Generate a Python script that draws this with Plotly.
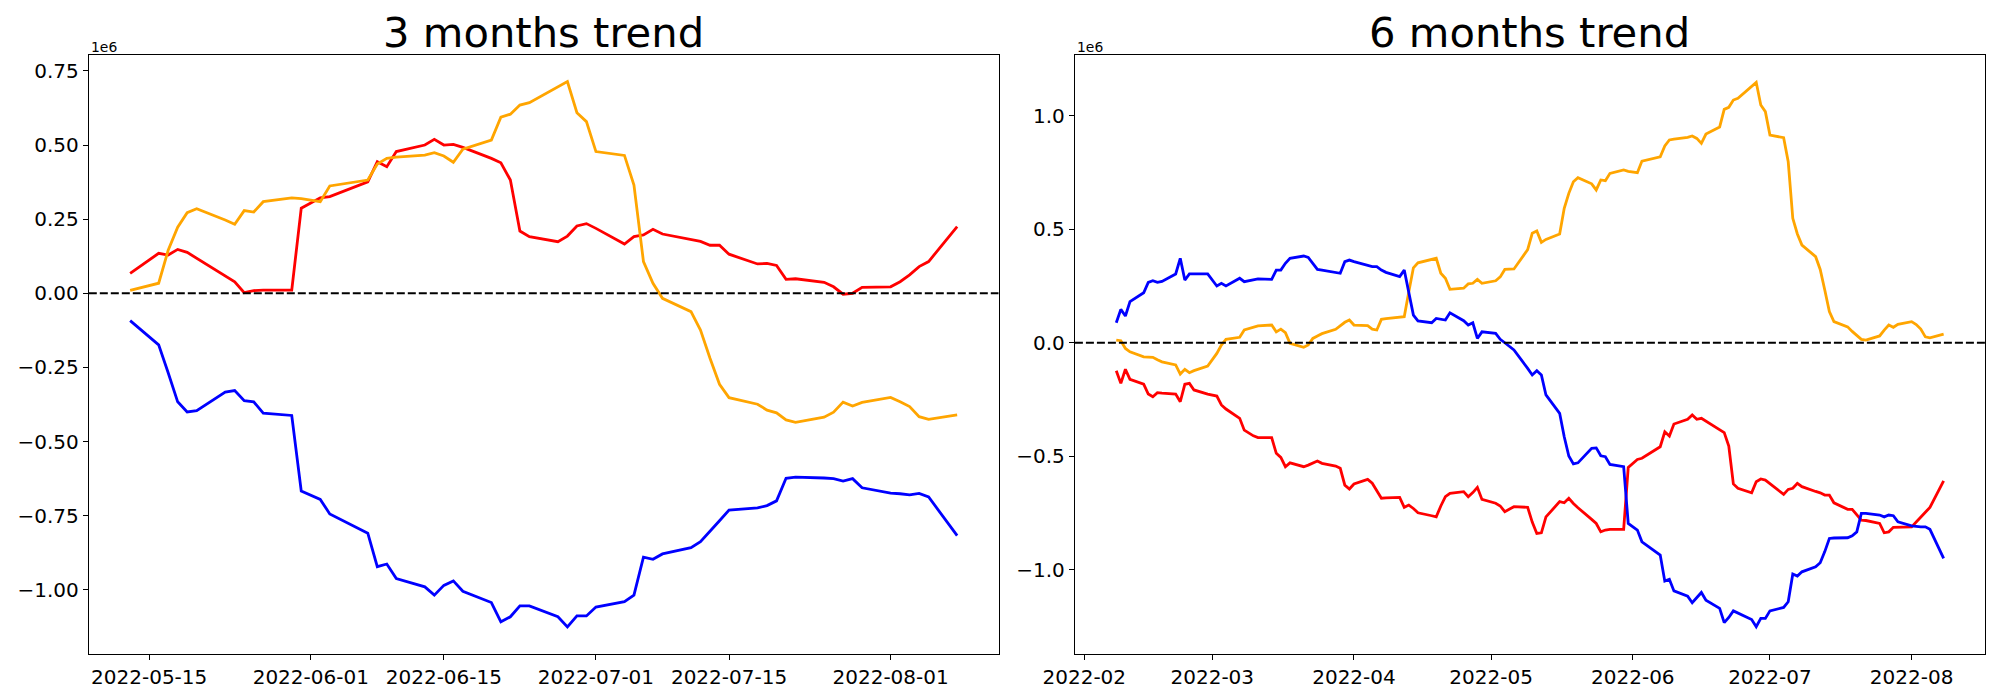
import plotly.graph_objects as go

# ---------------- 3 months trend (values in units of 1e6) ----------------
dates_3m = [
    "2022-05-13", "2022-05-16", "2022-05-17", "2022-05-18", "2022-05-19", "2022-05-20",
    "2022-05-23", "2022-05-24", "2022-05-25", "2022-05-26", "2022-05-27", "2022-05-30",
    "2022-05-31", "2022-06-02", "2022-06-03", "2022-06-07", "2022-06-08", "2022-06-09",
    "2022-06-10", "2022-06-13", "2022-06-14", "2022-06-15", "2022-06-16", "2022-06-17",
    "2022-06-20", "2022-06-21", "2022-06-22", "2022-06-23", "2022-06-24", "2022-06-27",
    "2022-06-28", "2022-06-29", "2022-06-30", "2022-07-01", "2022-07-04", "2022-07-05",
    "2022-07-06", "2022-07-07", "2022-07-08", "2022-07-11", "2022-07-12", "2022-07-13",
    "2022-07-14", "2022-07-15", "2022-07-18", "2022-07-19", "2022-07-20", "2022-07-21",
    "2022-07-22", "2022-07-25", "2022-07-26", "2022-07-27", "2022-07-28", "2022-07-29",
    "2022-08-01", "2022-08-02", "2022-08-03", "2022-08-04", "2022-08-05", "2022-08-08",
]
red_3m = [
    0.067, 0.135, 0.129, 0.148, 0.138, 0.118,
    0.059, 0.039, 0.002, 0.009, 0.011, 0.011,
    0.287, 0.322, 0.326, 0.376, 0.444, 0.427,
    0.478, 0.500, 0.519, 0.500, 0.502, 0.492,
    0.455, 0.440, 0.382, 0.210, 0.191, 0.174,
    0.193, 0.227, 0.235, 0.219, 0.166, 0.191,
    0.197, 0.216, 0.200, 0.182, 0.175, 0.162,
    0.162, 0.132, 0.099, 0.101, 0.094, 0.047,
    0.049, 0.037, 0.022, -0.003, 0.000, 0.020,
    0.022, 0.039, 0.062, 0.090, 0.107, 0.225,
]
orange_3m = [
    0.010, 0.034, 0.145, 0.223, 0.272, 0.285,
    0.247, 0.233, 0.279, 0.274, 0.309, 0.322,
    0.319, 0.309, 0.362, 0.382, 0.436, 0.455,
    0.459, 0.466, 0.474, 0.463, 0.442, 0.486,
    0.517, 0.594, 0.604, 0.635, 0.643, 0.696,
    0.714, 0.609, 0.579, 0.478, 0.465, 0.365,
    0.107, 0.034, -0.017, -0.062, -0.124, -0.219,
    -0.307, -0.352, -0.374, -0.394, -0.403, -0.427,
    -0.435, -0.418, -0.401, -0.367, -0.380, -0.368,
    -0.351, -0.366, -0.382, -0.416, -0.425, -0.410,
]
blue_3m = [
    -0.092, -0.174, -0.268, -0.366, -0.400, -0.396,
    -0.333, -0.328, -0.362, -0.366, -0.404, -0.412,
    -0.667, -0.695, -0.744, -0.809, -0.922, -0.913,
    -0.962, -0.990, -1.018, -0.985, -0.970, -1.005,
    -1.043, -1.108, -1.091, -1.054, -1.054, -1.091,
    -1.125, -1.088, -1.088, -1.058, -1.040, -1.018,
    -0.890, -0.897, -0.879, -0.858, -0.838, -0.804,
    -0.767, -0.731, -0.724, -0.716, -0.700, -0.624,
    -0.620, -0.623, -0.625, -0.633, -0.625, -0.656,
    -0.674, -0.676, -0.680, -0.675, -0.687, -0.817,
]

# ---------------- 6 months trend (values in units of 1e6) ----------------
dates_6m = [
    "2022-02-08", "2022-02-09", "2022-02-10", "2022-02-11", "2022-02-14", "2022-02-15",
    "2022-02-16", "2022-02-17", "2022-02-18", "2022-02-21", "2022-02-22", "2022-02-23",
    "2022-02-24", "2022-02-25", "2022-02-28",
    "2022-03-02", "2022-03-03", "2022-03-04", "2022-03-07", "2022-03-08", "2022-03-10",
    "2022-03-11", "2022-03-14", "2022-03-15", "2022-03-16", "2022-03-17", "2022-03-18",
    "2022-03-21", "2022-03-22", "2022-03-23", "2022-03-24", "2022-03-25", "2022-03-28",
    "2022-03-29", "2022-03-30", "2022-03-31",
    "2022-04-01", "2022-04-04", "2022-04-05", "2022-04-06", "2022-04-07", "2022-04-08",
    "2022-04-11", "2022-04-12", "2022-04-13", "2022-04-14", "2022-04-15", "2022-04-18",
    "2022-04-19", "2022-04-20", "2022-04-21", "2022-04-22", "2022-04-25", "2022-04-26",
    "2022-04-27", "2022-04-28", "2022-04-29",
    "2022-05-02", "2022-05-03", "2022-05-04", "2022-05-06", "2022-05-09", "2022-05-10",
    "2022-05-11", "2022-05-12", "2022-05-13", "2022-05-16", "2022-05-17", "2022-05-18",
    "2022-05-19", "2022-05-20", "2022-05-23", "2022-05-24", "2022-05-25", "2022-05-26",
    "2022-05-27", "2022-05-30", "2022-05-31",
    "2022-06-02", "2022-06-03", "2022-06-07", "2022-06-08", "2022-06-09", "2022-06-10",
    "2022-06-13", "2022-06-14", "2022-06-15", "2022-06-16", "2022-06-17", "2022-06-20",
    "2022-06-21", "2022-06-22", "2022-06-23", "2022-06-24", "2022-06-27", "2022-06-28",
    "2022-06-29", "2022-06-30",
    "2022-07-01", "2022-07-04", "2022-07-05", "2022-07-06", "2022-07-07", "2022-07-08",
    "2022-07-11", "2022-07-12", "2022-07-13", "2022-07-14", "2022-07-15", "2022-07-18",
    "2022-07-19", "2022-07-20", "2022-07-21", "2022-07-22", "2022-07-25", "2022-07-26",
    "2022-07-27", "2022-07-28", "2022-07-29",
    "2022-08-01", "2022-08-02", "2022-08-03", "2022-08-04", "2022-08-05", "2022-08-08",
]
blue_6m = [
    0.088, 0.147, 0.118, 0.181, 0.220, 0.266,
    0.273, 0.266, 0.270, 0.303, 0.372, 0.276,
    0.303, 0.303, 0.303,
    0.250, 0.262, 0.250, 0.284, 0.269, 0.279,
    0.281, 0.279, 0.320, 0.320, 0.350, 0.372,
    0.382, 0.376, 0.350, 0.323, 0.320, 0.310,
    0.306, 0.357, 0.364,
    0.357, 0.341, 0.335, 0.335, 0.320, 0.310,
    0.291, 0.320, 0.218, 0.122, 0.096, 0.088,
    0.107, 0.104, 0.100, 0.132, 0.097, 0.078,
    0.088, 0.019, 0.048,
    0.041, 0.015, 0.000, -0.032, -0.113, -0.142,
    -0.123, -0.142, -0.230, -0.311, -0.414, -0.499,
    -0.534, -0.529, -0.465, -0.463, -0.498, -0.502,
    -0.536, -0.546, -0.796,
    -0.825, -0.877, -0.935, -1.050, -1.042, -1.093,
    -1.116, -1.145, -1.120, -1.100, -1.134, -1.170,
    -1.233, -1.210, -1.181, -1.190, -1.219, -1.251,
    -1.214, -1.214,
    -1.181, -1.166, -1.141, -1.019, -1.028, -1.009,
    -0.987, -0.969, -0.920, -0.862, -0.860, -0.859,
    -0.850, -0.833, -0.752, -0.752, -0.759, -0.767,
    -0.759, -0.762, -0.789,
    -0.807, -0.810, -0.811, -0.811, -0.822, -0.950,
]
red_6m = [
    -0.123, -0.179, -0.117, -0.161, -0.182, -0.226,
    -0.238, -0.220, -0.222, -0.226, -0.260, -0.183,
    -0.179, -0.208, -0.226,
    -0.235, -0.274, -0.292, -0.333, -0.385, -0.410,
    -0.418, -0.418, -0.487, -0.505, -0.546, -0.529,
    -0.546, -0.539, -0.530, -0.521, -0.531, -0.543,
    -0.553, -0.627, -0.644,
    -0.622, -0.602, -0.619, -0.652, -0.685, -0.683,
    -0.681, -0.725, -0.715, -0.730, -0.749, -0.762,
    -0.767, -0.719, -0.678, -0.663, -0.656, -0.678,
    -0.660, -0.637, -0.690,
    -0.707, -0.719, -0.744, -0.722, -0.725, -0.790,
    -0.840, -0.837, -0.767, -0.700, -0.705, -0.685,
    -0.708, -0.727, -0.778, -0.796, -0.833, -0.825,
    -0.822, -0.822, -0.549,
    -0.514, -0.509, -0.458, -0.392, -0.411, -0.358,
    -0.337, -0.318, -0.337, -0.333, -0.346, -0.386,
    -0.396, -0.455, -0.622, -0.641, -0.661, -0.612,
    -0.600, -0.605,
    -0.620, -0.668, -0.646, -0.641, -0.619, -0.634,
    -0.655, -0.661, -0.671, -0.671, -0.705, -0.734,
    -0.734, -0.759, -0.781, -0.783, -0.796, -0.837,
    -0.833, -0.813, -0.812,
    -0.811, -0.790, -0.769, -0.745, -0.725, -0.608,
]
orange_6m = [
    0.012, 0.009, -0.025, -0.040, -0.062, -0.063,
    -0.064, -0.075, -0.084, -0.098, -0.138, -0.117,
    -0.132, -0.123, -0.103,
    -0.047, -0.010, 0.015, 0.024, 0.056, 0.070,
    0.074, 0.078, 0.048, 0.060, 0.044, -0.003,
    -0.020, -0.010, 0.019, 0.030, 0.040, 0.059,
    0.074, 0.090, 0.100,
    0.078, 0.075, 0.060, 0.056, 0.103, 0.106,
    0.112, 0.115, 0.225, 0.330, 0.352, 0.365,
    0.372, 0.306, 0.284, 0.235, 0.240, 0.259,
    0.262, 0.279, 0.262,
    0.273, 0.290, 0.323, 0.325, 0.410, 0.482,
    0.492, 0.442, 0.455, 0.479, 0.592, 0.658,
    0.709, 0.727, 0.700, 0.673, 0.717, 0.714,
    0.746, 0.761, 0.755,
    0.749, 0.800, 0.819, 0.867, 0.893, 0.897,
    0.905, 0.911, 0.900, 0.878, 0.919, 0.950,
    1.028, 1.037, 1.069, 1.077, 1.130, 1.147,
    1.047, 1.018,
    0.915, 0.903, 0.797, 0.548, 0.479, 0.430,
    0.379, 0.323, 0.232, 0.137, 0.093, 0.070,
    0.050, 0.034, 0.015, 0.012, 0.030, 0.056,
    0.078, 0.068, 0.081,
    0.093, 0.080, 0.060, 0.026, 0.022, 0.038,
]

# ---------------- ticks & labels ----------------
titles = ["3 months trend", "6 months trend"]
x3_ticks = ["2022-05-15", "2022-06-01", "2022-06-15", "2022-07-01", "2022-07-15", "2022-08-01"]
x3_labels = ["2022-05-15", "2022-06-01", "2022-06-15", "2022-07-01", "2022-07-15", "2022-08-01"]
x6_ticks = ["2022-02-01", "2022-03-01", "2022-04-01", "2022-05-01", "2022-06-01", "2022-07-01", "2022-08-01"]
x6_labels = ["2022-02", "2022-03", "2022-04", "2022-05", "2022-06", "2022-07", "2022-08"]
y3_ticks = [-1.0, -0.75, -0.5, -0.25, 0.0, 0.25, 0.5, 0.75]
y3_labels = ["\u22121.00", "\u22120.75", "\u22120.50", "\u22120.25", "0.00", "0.25", "0.50", "0.75"]
y6_ticks = [-1.0, -0.5, 0.0, 0.5, 1.0]
y6_labels = ["\u22121.0", "\u22120.5", "0.0", "0.5", "1.0"]
offset_label = "1e6"

FONT = "DejaVu Sans"
LW = 2.8

fig = go.Figure()
for name, vals, col in [("red", red_3m, "#ff0000"), ("orange", orange_3m, "#ffa500"), ("blue", blue_3m, "#0000ff")]:
    fig.add_trace(go.Scatter(x=dates_3m, y=vals, mode="lines", line=dict(color=col, width=LW),
                             xaxis="x", yaxis="y", showlegend=False, name=name))
for name, vals, col in [("red", red_6m, "#ff0000"), ("orange", orange_6m, "#ffa500"), ("blue", blue_6m, "#0000ff")]:
    fig.add_trace(go.Scatter(x=dates_6m, y=vals, mode="lines", line=dict(color=col, width=LW),
                             xaxis="x2", yaxis="y2", showlegend=False, name=name))

W, H = 2000, 700
OFF = 8.0  # page body margin offset compensation
L1, R1 = 88.8 - OFF, 998.5 - OFF
L2, R2 = 1074.9 - OFF, 1985.0 - OFF
TOP, BOT = 55.0 - OFF, 654.0 - OFF

axis_common = dict(showline=True, linecolor="black", linewidth=1.1, mirror=True,
                   ticks="outside", ticklen=5, tickwidth=1.1, tickcolor="black",
                   showgrid=False, zeroline=False,
                   tickfont=dict(family=FONT, size=20, color="black"))

fig.update_layout(
    width=W, height=H,
    margin=dict(l=0, r=0, t=0, b=0, autoexpand=False),
    paper_bgcolor="white", plot_bgcolor="white",
    font=dict(family=FONT, color="black"),
    xaxis=dict(domain=[L1 / W, R1 / W], type="date", anchor="y",
               range=["2022-05-08 15:36", "2022-08-12 08:24"],
               tickmode="array", tickvals=x3_ticks, ticktext=x3_labels, **axis_common),
    yaxis=dict(domain=[1 - BOT / H, 1 - TOP / H], anchor="x", range=[-1.2165, 0.8037],
               tickmode="array", tickvals=y3_ticks, ticktext=y3_labels, **axis_common),
    xaxis2=dict(domain=[L2 / W, R2 / W], type="date", anchor="y2",
                range=["2022-01-29 22:48", "2022-08-17 01:12"],
                tickmode="array", tickvals=x6_ticks, ticktext=x6_labels, **axis_common),
    yaxis2=dict(domain=[1 - BOT / H, 1 - TOP / H], anchor="x2", range=[-1.371, 1.2674],
                tickmode="array", tickvals=y6_ticks, ticktext=y6_labels, **axis_common),
)

# dashed zero lines
for xr, yr in [("x domain", "y"), ("x2 domain", "y2")]:
    fig.add_shape(type="line", xref=xr, yref=yr, x0=0, x1=1, y0=0, y1=0,
                  line=dict(color="black", width=2, dash="8px,3px"), layer="above")

# titles and offset labels
for title, (l, r) in zip(titles, [(L1, R1), (L2, R2)]):
    fig.add_annotation(text=title, xref="paper", yref="paper", x=(l + r) / 2 / W,
                       y=1 - 50.7 / H, xanchor="center", yanchor="bottom", showarrow=False,
                       font=dict(family=FONT, size=41.7, color="black"))
    fig.add_annotation(text=offset_label, xref="paper", yref="paper", x=l / W,
                       y=1 - 48.5 / H, xanchor="left", yanchor="bottom", showarrow=False,
                       font=dict(family=FONT, size=13.9, color="black"))

fig.write_html("out.html")
